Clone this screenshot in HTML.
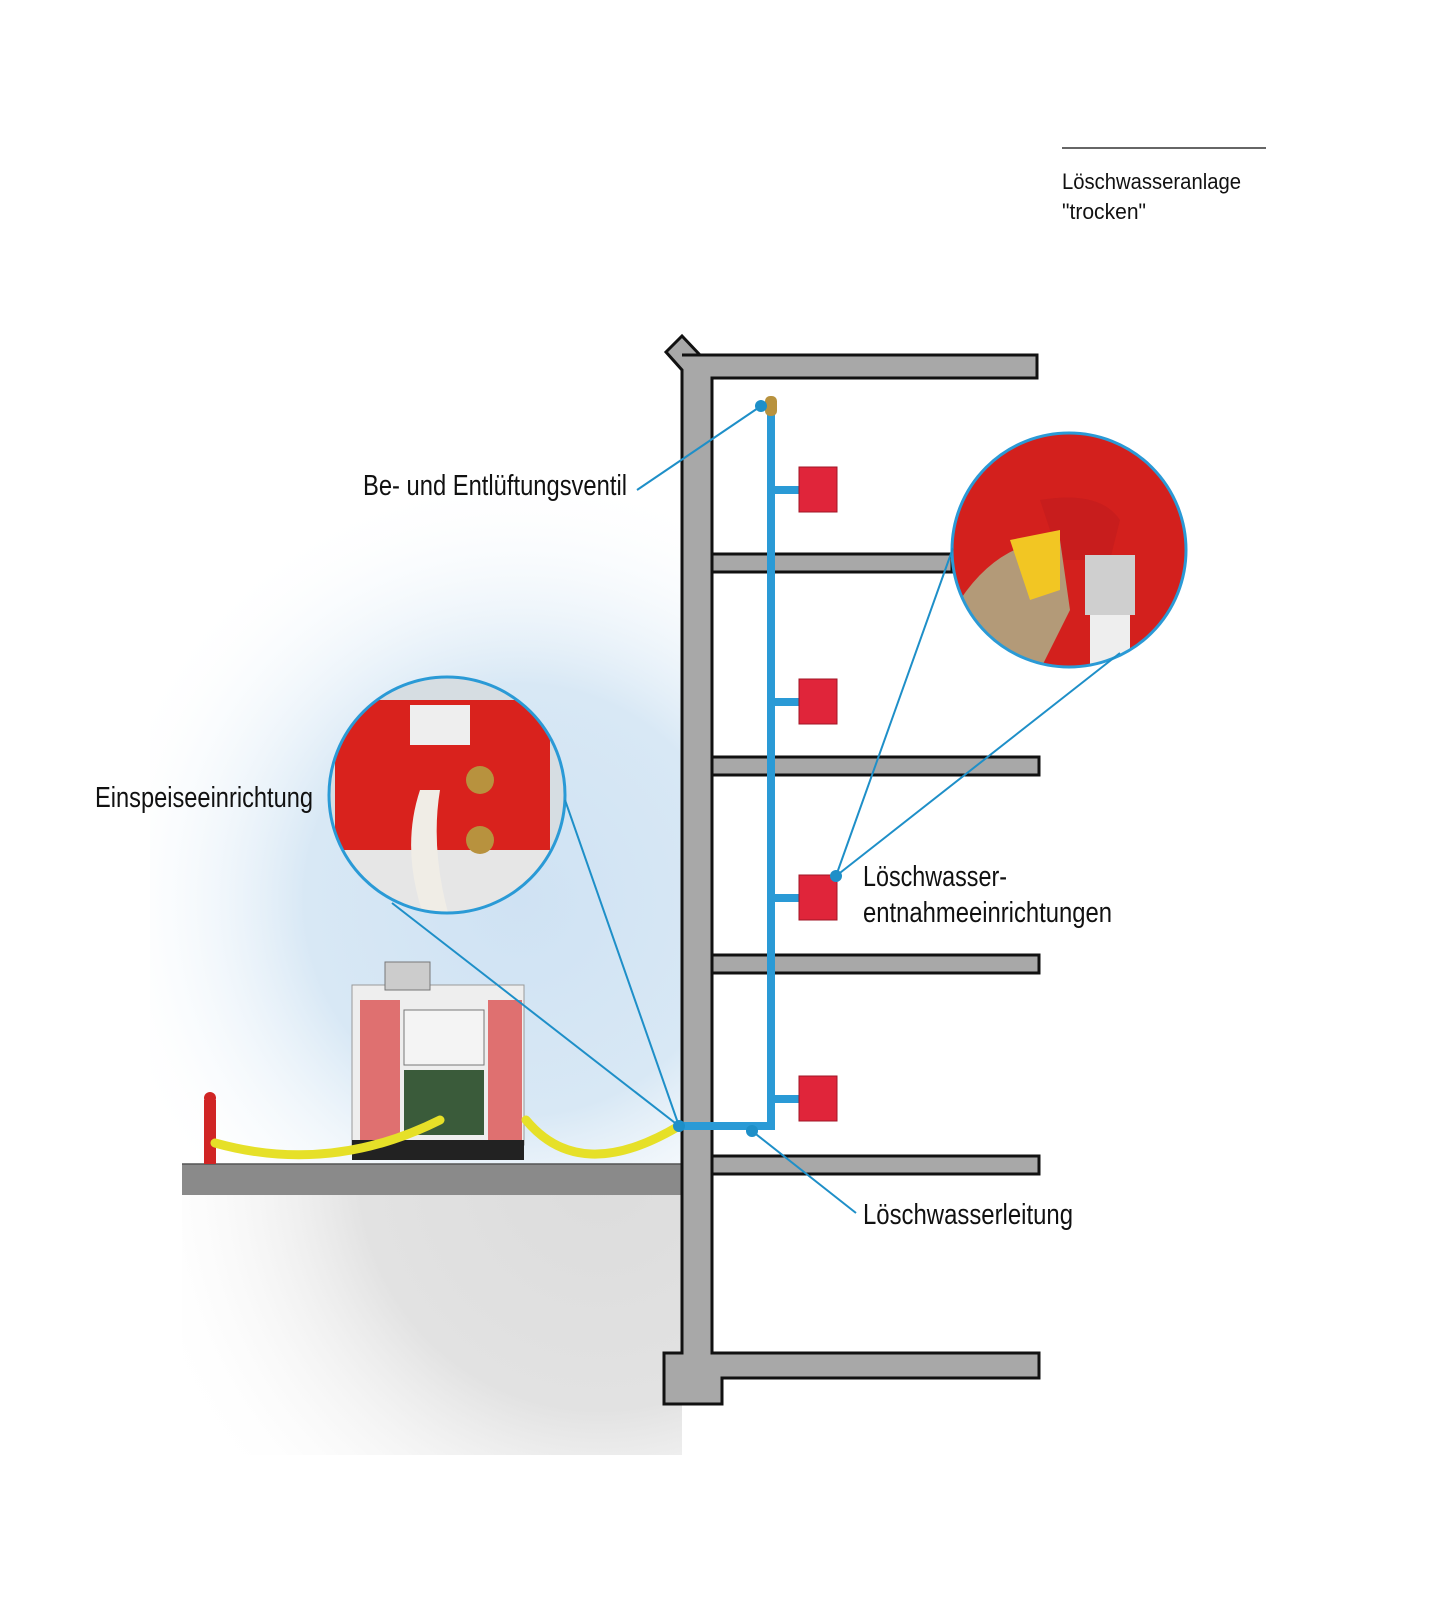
<!DOCTYPE html>
<html><head><meta charset="utf-8"><style>
html,body{margin:0;padding:0;background:#fff}
svg{display:block}
text{font-family:"Liberation Sans",sans-serif;fill:#111}
</style></head><body>
<svg width="1444" height="1600" viewBox="0 0 1444 1600" xmlns="http://www.w3.org/2000/svg">
<defs>
<radialGradient id="sky" cx="520" cy="900" r="430" gradientUnits="userSpaceOnUse">
<stop offset="0" stop-color="#cfe2f3"/><stop offset="0.5" stop-color="#d8e8f5"/><stop offset="1" stop-color="#fff" stop-opacity="0"/>
</radialGradient>
<radialGradient id="soil" cx="600" cy="1170" r="480" gradientUnits="userSpaceOnUse">
<stop offset="0" stop-color="#dcdcdc"/><stop offset="0.5" stop-color="#e2e2e2"/><stop offset="1" stop-color="#fff" stop-opacity="0"/>
</radialGradient>
<clipPath id="c1"><circle cx="447" cy="795" r="118"/></clipPath>
<clipPath id="c2"><circle cx="1069" cy="550" r="117"/></clipPath>
</defs>
<rect x="150" y="480" width="535" height="690" fill="url(#sky)"/>
<rect x="182" y="1195" width="500" height="260" fill="url(#soil)"/>
<rect x="182" y="1164" width="500" height="31" fill="#8a8a8a"/>
<line x1="182" y1="1164" x2="682" y2="1164" stroke="#555" stroke-width="1.5"/>
<g fill="#a8a8a8" stroke="#111" stroke-width="3">
<path d="M682 355 L1037 355 L1037 378 L712 378 L712 1353 L1039 1353 L1039 1378 L722 1378 L722 1404 L664 1404 L664 1353 L682 1353 L682 370 L666 352 L682 336 L700 355"/>
<rect x="712" y="554" width="240" height="18"/>
<rect x="712" y="757" width="327" height="18"/>
<rect x="712" y="955" width="327" height="18"/>
<rect x="712" y="1156" width="327" height="18"/>
</g>
<rect x="684" y="357" width="26" height="10" fill="#a8a8a8"/>
<g stroke="#2a9ad6" stroke-width="8" fill="none">
<path d="M771 410 L771 1126 L682 1126"/>
<path d="M771 490 L800 490 M771 702 L800 702 M771 898 L800 898 M771 1099 L800 1099"/>
</g>
<rect x="765" y="396" width="12" height="20" rx="5" fill="#b8923e"/>
<g fill="#e0253a" stroke="#a01525" stroke-width="1">
<rect x="799" y="467" width="38" height="45"/>
<rect x="799" y="679" width="38" height="45"/>
<rect x="799" y="875" width="38" height="45"/>
<rect x="799" y="1076" width="38" height="45"/>
</g>
<g clip-path="url(#c1)">
<rect x="329" y="677" width="240" height="240" fill="#d6dde2"/>
<rect x="335" y="700" width="215" height="165" fill="#d9221d"/>
<rect x="410" y="705" width="60" height="40" fill="#eee"/>
<rect x="335" y="850" width="240" height="70" fill="#e6e6e6"/>
<path d="M420 790 Q400 850 425 920 L450 920 Q430 850 440 790Z" fill="#f0ede6"/>
<circle cx="480" cy="780" r="14" fill="#b8923e"/>
<circle cx="480" cy="840" r="14" fill="#b8923e"/>
</g>
<circle cx="447" cy="795" r="118" fill="none" stroke="#2a9ad6" stroke-width="3"/>
<g clip-path="url(#c2)">
<rect x="950" y="432" width="240" height="240" fill="#d3201d"/>
<path d="M1040 500 Q1100 490 1120 520 L1110 560 L1060 560Z" fill="#c81d1d"/>
<path d="M960 600 Q1000 540 1060 540 L1070 610 L1040 670 L960 670Z" fill="#b39a78"/>
<path d="M1010 540 L1060 530 L1060 590 L1030 600Z" fill="#f2c623"/>
<rect x="1085" y="555" width="50" height="60" fill="#cfcfcf"/>
<rect x="1090" y="615" width="40" height="60" fill="#eee"/>
</g>
<circle cx="1069" cy="550" r="117" fill="none" stroke="#2a9ad6" stroke-width="3"/>
<g>
<rect x="352" y="985" width="172" height="160" fill="#eee" stroke="#999"/>
<rect x="385" y="962" width="45" height="28" fill="#ccc" stroke="#777"/>
<rect x="360" y="1000" width="40" height="140" fill="#d83a3a" opacity="0.7"/>
<rect x="488" y="1000" width="34" height="140" fill="#d83a3a" opacity="0.7"/>
<rect x="404" y="1010" width="80" height="55" fill="#f4f4f4" stroke="#777"/>
<rect x="404" y="1070" width="80" height="65" fill="#3a5b3a"/>
<rect x="352" y="1140" width="172" height="20" fill="#222"/>
</g>
<rect x="204" y="1100" width="12" height="64" fill="#d02525"/>
<circle cx="210" cy="1098" r="6" fill="#d02525"/>
<g stroke="#e6e028" stroke-width="9" fill="none" stroke-linecap="round">
<path d="M215 1143 Q330 1175 440 1120"/>
<path d="M526 1120 Q580 1185 679 1126"/>
</g>
<g stroke="#1e8fc8" stroke-width="2" fill="none">
<line x1="761" y1="406" x2="637" y2="490"/>
<line x1="836" y1="876" x2="953" y2="548"/>
<line x1="836" y1="876" x2="1120" y2="653"/>
<line x1="679" y1="1126" x2="565" y2="800"/>
<line x1="679" y1="1126" x2="392" y2="903"/>
<line x1="752" y1="1131" x2="856" y2="1213"/>
</g>
<g fill="#1e8fc8">
<circle cx="761" cy="406" r="6"/><circle cx="836" cy="876" r="6"/>
<circle cx="679" cy="1126" r="6"/><circle cx="752" cy="1131" r="6"/>
</g>
<line x1="1062" y1="148" x2="1266" y2="148" stroke="#333" stroke-width="1.5"/>
<text x="1062" y="189" font-size="22" textLength="179" lengthAdjust="spacingAndGlyphs">Löschwasseranlage</text>
<text x="1062" y="219" font-size="22" textLength="84" lengthAdjust="spacingAndGlyphs">"trocken"</text>
<text x="363" y="495" font-size="29" textLength="264" lengthAdjust="spacingAndGlyphs">Be- und Entlüftungsventil</text>
<text x="95" y="807" font-size="29" textLength="218" lengthAdjust="spacingAndGlyphs">Einspeiseeinrichtung</text>
<text x="863" y="886" font-size="29" textLength="144" lengthAdjust="spacingAndGlyphs">Löschwasser-</text>
<text x="863" y="922" font-size="29" textLength="249" lengthAdjust="spacingAndGlyphs">entnahmeeinrichtungen</text>
<text x="863" y="1224" font-size="29" textLength="210" lengthAdjust="spacingAndGlyphs">Löschwasserleitung</text>
</svg>
</body></html>
